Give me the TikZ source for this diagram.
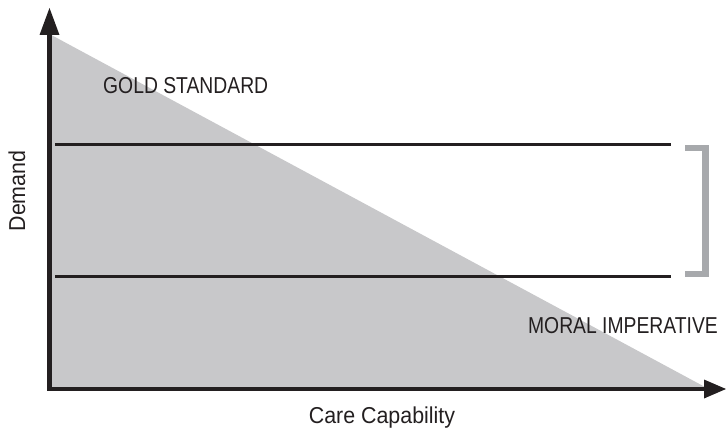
\documentclass[tikz,border=0pt]{standalone}
\usepackage{fontspec}
\setmainfont[FakeStretch=0.93]{Liberation Sans}
\newfontfamily\capsfont[FakeStretch=0.84]{Liberation Sans}
\definecolor{axisblack}{HTML}{231F20}
\definecolor{areagray}{HTML}{C8C8CA}
\definecolor{bracketgray}{HTML}{A7A9AC}
\begin{document}
\begin{tikzpicture}[x=1pt,y=-1pt,
  axisline/.style={line width=4.5pt,draw=axisblack},
  level/.style={line width=3pt,draw=axisblack},
  tip/.style={fill=axisblack,draw=none},
  bracket/.style={line width=6.5pt,draw=bracketgray,line cap=butt,line join=miter},
  lab/.style={font=\fontsize{23}{25}\selectfont,text=axisblack,inner sep=0pt},
  caplab/.style={lab,font=\fontsize{23}{25}\selectfont\capsfont}]
\useasboundingbox (0,0) rectangle (726,428);
% key points
\coordinate (O) at (49.5,389);
\coordinate (ytop) at (49.5,34);
\coordinate (xend) at (705,389);
\coordinate (ytip) at (49.5,8);
\coordinate (xtip) at (726,389);
% shaded region under the diagonal
\fill[areagray] (O) -- (ytop) -- (705,387) -- cycle;
% demand levels
\coordinate (hiL) at (55,144);
\coordinate (hiR) at (671,144);
\coordinate (loL) at (55,276);
\coordinate (loR) at (671,276);
\draw[level] (hiL) -- (hiR);
\draw[level] (loL) -- (loR);
% bracket spanning the band
\coordinate (bT) at (685,148);
\coordinate (bB) at (685,274);
\draw[bracket] (bT) -- (705.5,148) -- (705.5,274) -- (bB);
% axes
\draw[axisline] (47.25,389) -- (xend);
\draw[axisline] (O) -- (ytop);
\fill[tip] (ytip) -- (59.5,35) -- (39.5,35) -- cycle;
\fill[tip] (xtip) -- (704,379.5) -- (704,398.5) -- cycle;
% labels
\node[caplab,anchor=base west] (gold) at (103,93) {GOLD STANDARD};
\node[caplab,anchor=base east] (moral) at (718,333) {MORAL IMPERATIVE};
\node[lab,anchor=base] (xlab) at (382,423) {Care Capability};
\node[lab,anchor=base,rotate=90] (ylab) at (25,191) {Demand};
\end{tikzpicture}
\end{document}
